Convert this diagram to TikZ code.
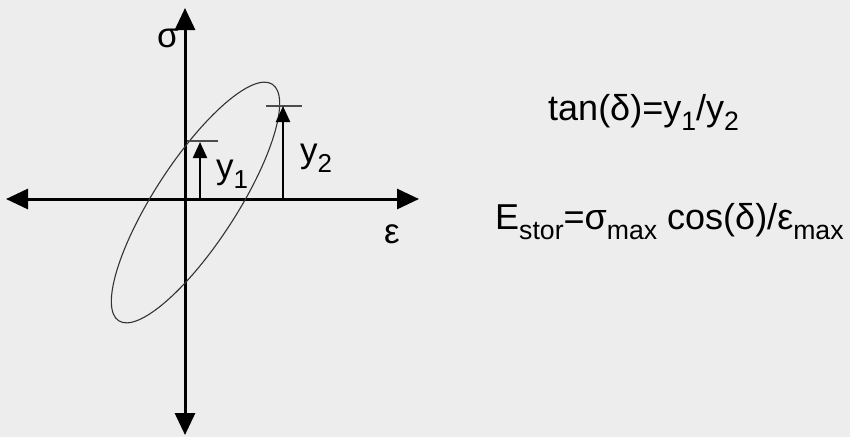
\documentclass[tikz,border=0pt]{standalone}
\usepackage{fontspec}
\setmainfont{Liberation Sans}
\usetikzlibrary{arrows.meta}
\newcommand\lowsub[1]{\raisebox{-0.28em}{\scalebox{0.74}{#1}}}
\tikzset{
  axis/.style={line width=3pt,-{Triangle[width=20pt,length=22pt]}},
  meas/.style={line width=2.2pt,-{Triangle[width=14pt,length=16pt]}},
  tick/.style={line width=1.5pt,draw=black!70},
  loop/.style={line width=1.1pt,draw=black!80},
  lab/.style={font=\fontsize{35}{40}\selectfont,inner sep=0pt},
  formula/.style={font=\fontsize{36}{42}\selectfont,inner sep=0pt,anchor=base west}
}
\begin{document}
\begin{tikzpicture}[x=1pt,y=-1pt]
\fill[black!7] (0,0) rectangle (850,437);
\useasboundingbox (0,0) rectangle (850,437);
% axes
\coordinate (o) at (185,199);
\coordinate (top) at (185,8);
\coordinate (bot) at (185,435);
\coordinate (left) at (6,199);
\coordinate (right) at (419,199);
\draw[axis] (o) -- (top);
\draw[axis] (o) -- (bot);
\draw[axis] (o) -- (left);
\draw[axis] (o) -- (right);
% hysteresis ellipse
\draw[loop] (195.5,202.5) ellipse[x radius=141, y radius=41, rotate=57];
% measurement arrows
\coordinate (b1) at (200,199);
\coordinate (t1) at (200,142);
\coordinate (b2) at (283,199);
\coordinate (t2) at (283,106);
\coordinate (l1a) at (187,141);
\coordinate (l1b) at (218,141);
\coordinate (l2a) at (266,106);
\coordinate (l2b) at (302,106);
\draw[tick] (l1a) -- (l1b);
\draw[tick] (l2a) -- (l2b);
\draw[meas] (b1) -- (t1);
\draw[meas] (b2) -- (t2);
% labels
\node[lab] (sigma) at (168,38) {σ};
\node[lab] (eps) at (392,234) {ε};
\node[lab] (y1) at (232,174) {y\lowsub{1}};
\node[lab] (y2) at (316,158) {y\lowsub{2}};
\node[formula] (tan) at (548,120) {tan(δ)=y\lowsub{1}/y\lowsub{2}};
\node[formula] (estor) at (495,229) {E\lowsub{stor}=σ\lowsub{max} cos(δ)/ε\lowsub{max}};
\end{tikzpicture}
\end{document}
